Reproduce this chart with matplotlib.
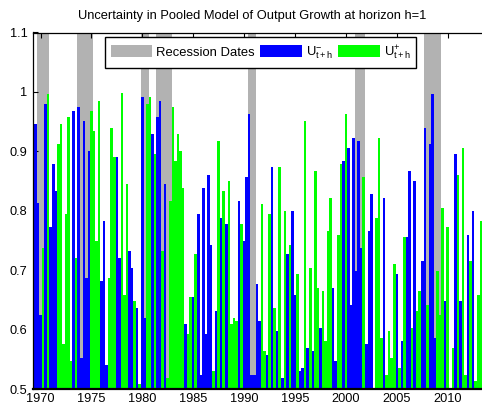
import numpy as np
import pandas as pd
import matplotlib
matplotlib.use("Agg")
import matplotlib.pyplot as plt

plt.rcParams['font.family'] = ['Liberation Sans', 'DejaVu Sans']
plt.rcParams['mathtext.fontset'] = 'custom'
plt.rcParams['mathtext.rm'] = 'Liberation Sans'
plt.rcParams['mathtext.it'] = 'Liberation Sans:italic'
plt.rcParams['mathtext.bf'] = 'Liberation Sans:bold'

# ---------------- data ----------------
start_quarter = "1969Q2"
title = "Uncertainty in Pooled Model of Output Growth at horizon h=1"

u_minus = [
    .946, .946, .813, .625, .263, .980, .004, .772, .878, .833,
    .088, .054, .425, .206, .043, .453, .968, .279, .974, .552,
    .951, .687, .901, .032, .065, .251, .015, .682, .783, .540,
    .313, .060, .110, .890, .721, .002, .341, .155, .732, .704,
    .352, .637, .492, .991, .620, .021, .009, .929, .105, .957,
    .985, .268, .845, .481, .183, .026, .116, .071, .099, .161,
    .609, .408, .346, .654, .273, .794, .524, .839, .592, .861,
    .743, .470, .631, .082, .788, .167, .777, .150, .391, .380,
    .386, .816, .223, .749, .856, .963, .524, .524, .676, .614,
    .189, .436, .558, .206, .873, .363, .597, .127, .519, .200,
    .727, .257, .800, .659, .307, .530, .536, .049, .569, .296,
    .564, .133, .330, .603, .335, .420, .234, .178, .670, .547,
    .240, .122, .884, .037, .906, .642, .923, .699, .918, .738,
    .144, .575, .766, .828, .502, .212, .077, .414, .822, .476,
    .403, .448, .290, .693, .464, .580, .245, .755, .867, .397,
    .850, .369, .335, .715, .940, .358, .912, .996, .586, .301,
    .375, .195, .648, .228, .502, .431, .895, .139, .648, .094,
    .476, .760, .285, .800, .487, .341, .217,
]

u_plus = [
    .054, .054, .187, .375, .737, .020, .996, .228, .122, .167,
    .912, .946, .575, .794, .957, .547, .032, .721, .026, .448,
    .049, .313, .099, .968, .935, .749, .985, .318, .217, .460,
    .687, .940, .890, .110, .279, .998, .659, .845, .268, .296,
    .648, .363, .508, .009, .380, .979, .991, .071, .895, .043,
    .015, .732, .155, .519, .817, .974, .884, .929, .901, .839,
    .391, .592, .654, .346, .727, .206, .476, .161, .408, .139,
    .257, .530, .369, .918, .212, .833, .223, .850, .609, .620,
    .614, .184, .777, .251, .144, .037, .476, .476, .324, .386,
    .811, .564, .442, .794, .127, .637, .403, .873, .481, .800,
    .273, .743, .200, .341, .693, .470, .464, .951, .431, .704,
    .436, .867, .670, .397, .665, .580, .766, .822, .330, .453,
    .760, .878, .116, .963, .094, .358, .077, .301, .082, .262,
    .856, .425, .234, .172, .498, .788, .923, .586, .178, .524,
    .597, .552, .710, .307, .536, .420, .755, .245, .133, .603,
    .150, .631, .665, .285, .060, .642, .088, .004, .414, .699,
    .625, .805, .352, .772, .498, .569, .105, .861, .352, .906,
    .524, .240, .715, .200, .513, .659, .783,
]

recessions = [
    ("1969Q4", "1970Q4"),
    ("1973Q4", "1975Q1"),
    ("1980Q1", "1980Q3"),
    ("1981Q3", "1982Q4"),
    ("1990Q3", "1991Q1"),
    ("2001Q1", "2001Q4"),
    ("2007Q4", "2009Q2"),
]
recession_height = 1.1

xtick_years = [1970, 1975, 1980, 1985, 1990, 1995, 2000, 2005, 2010]
ytick_values = [0.5, 0.6, 0.7, 0.8, 0.9, 1.0, 1.1]
ytick_labels = ["0.5", "0.6", "0.7", "0.8", "0.9", "1", "1.1"]

# ---------------- plot ----------------
W, H = 482, 408
fig = plt.figure(figsize=(W / 100, H / 100), dpi=100)
ax = fig.add_axes([33 / W, 19 / H, 449 / W, 356.5 / H])

quarters = pd.period_range(start_quarter, periods=len(u_minus), freq="Q")
x = np.asarray(quarters.year + (quarters.quarter - 1) / 4.0, dtype=float)

rec_x = []
for s, e in recessions:
    pr = pd.period_range(s, e, freq="Q")
    rec_x.extend(list(pr.year + (pr.quarter - 1) / 4.0))
rec_x = np.array(rec_x, dtype=float)

bw = 0.25
gray = "#b2b2b2"
h_rec = ax.bar(rec_x, [recession_height] * len(rec_x), width=bw, color=gray,
               linewidth=0, label="Recession Dates", zorder=1)
h_min = ax.bar(x, u_minus, width=bw, color=(0, 0, 1), linewidth=0,
               label=r"U$^{-}_{\mathrm{t+h}}$", zorder=2)
h_pl = ax.bar(x, u_plus, width=bw, color=(0, 1, 0), linewidth=0,
              label=r"U$^{+}_{\mathrm{t+h}}$", zorder=3)

ax.set_xlim(1969.262, 2013.37)
ax.set_ylim(0.5, 1.1)
ax.set_xticks(xtick_years)
ax.set_xticklabels([str(y) for y in xtick_years])
ax.set_yticks(ytick_values)
ax.set_yticklabels(ytick_labels)

ax.tick_params(axis="both", direction="in", length=3.5, width=0.8,
               labelsize=9.2, colors="black", pad=4)
ax.tick_params(axis="x", top=True, pad=3)
ax.spines["right"].set_visible(False)
for sp in ["left", "top"]:
    ax.spines[sp].set_linewidth(0.9)
ax.spines["bottom"].set_linewidth(1.6)
for sp in ax.spines.values():
    sp.set_zorder(5)

leg = ax.legend(handles=[h_rec, h_min, h_pl], loc="upper center",
                bbox_to_anchor=(0.507, 0.986), ncol=3, fontsize=9.4,
                frameon=True, fancybox=False, framealpha=1,
                edgecolor="black", handlelength=3.2, handleheight=1.0,
                handletextpad=0.3, columnspacing=0.4, borderpad=0.45,
                borderaxespad=0)
leg.get_frame().set_linewidth(1.0)
leg.set_zorder(10)

fig.text(252 / W, 1 - 16 / H, title, ha="center", va="center", fontsize=9.3)

fig.savefig("out.png", dpi=100)
